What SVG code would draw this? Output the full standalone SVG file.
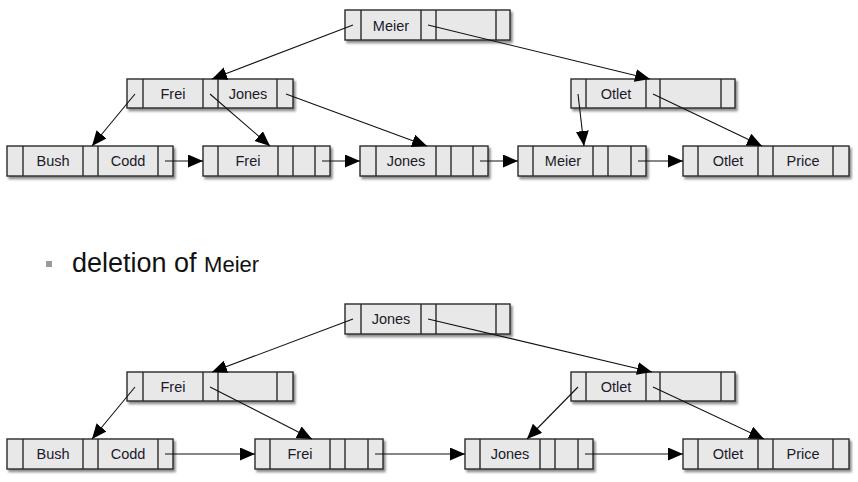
<svg xmlns="http://www.w3.org/2000/svg" width="858" height="482" viewBox="0 0 858 482">
<style>
.box{fill:#e8e8e8;stroke:#2b2b2b;stroke-width:1.4}
.div{stroke:#2b2b2b;stroke-width:1.4}
.t{font-family:"Liberation Sans",Arial,sans-serif;font-size:14.5px;fill:#1a1a2a;text-anchor:middle}
.c{stroke:#111;stroke-width:1.1;fill:none;marker-end:url(#ah)}
</style>
<defs>
<marker id="ah" markerUnits="userSpaceOnUse" markerWidth="16" markerHeight="14" refX="15" refY="6.5" orient="auto">
<path d="M0,0 L15,6.5 L0,13 Z" fill="#000"/>
</marker>
<filter id="sh" x="-10%" y="-20%" width="120%" height="160%">
<feDropShadow dx="2" dy="2.5" stdDeviation="1.3" flood-color="#000" flood-opacity="0.45"/>
</filter>
</defs>

<!-- TOP TREE -->
<g id="t-root">
<rect class="box" x="345" y="10" width="165" height="30" filter="url(#sh)"/>
<path class="div" d="M361,10V40M421,10V40M436,10V40M496,10V40"/>
<text class="t" x="391" y="31">Meier</text>
</g>
<g id="t-in1">
<rect class="box" x="127" y="79" width="166" height="29" filter="url(#sh)"/>
<path class="div" d="M143,79V108M203,79V108M218,79V108M277,79V108"/>
<text class="t" x="173" y="99">Frei</text>
<text class="t" x="248" y="99">Jones</text>
</g>
<g id="t-in2">
<rect class="box" x="571" y="79" width="164" height="29" filter="url(#sh)"/>
<path class="div" d="M586,79V108M646,79V108M660,79V108M721,79V108"/>
<text class="t" x="616" y="99">Otlet</text>
</g>
<g id="t-leaf1">
<rect class="box" x="7" y="146" width="166" height="30" filter="url(#sh)"/>
<path class="div" d="M23,146V176M83,146V176M98,146V176M158,146V176"/>
<text class="t" x="53" y="166">Bush</text>
<text class="t" x="128" y="166">Codd</text>
</g>
<g id="t-leaf2">
<rect class="box" x="203" y="146" width="127" height="30" filter="url(#sh)"/>
<path class="div" d="M218,146V176M278,146V176M293,146V176M315,146V176"/>
<text class="t" x="248" y="166">Frei</text>
</g>
<g id="t-leaf3">
<rect class="box" x="360" y="146" width="128" height="30" filter="url(#sh)"/>
<path class="div" d="M376,146V176M436,146V176M451,146V176M473,146V176"/>
<text class="t" x="406" y="166">Jones</text>
</g>
<g id="t-leaf4">
<rect class="box" x="518" y="146" width="128" height="30" filter="url(#sh)"/>
<path class="div" d="M533,146V176M593,146V176M608,146V176M631,146V176"/>
<text class="t" x="563" y="166">Meier</text>
</g>
<g id="t-leaf5">
<rect class="box" x="683" y="146" width="166" height="30" filter="url(#sh)"/>
<path class="div" d="M698,146V176M758,146V176M773,146V176M833,146V176"/>
<text class="t" x="728" y="166">Otlet</text>
<text class="t" x="803" y="166">Price</text>
</g>

<g id="t-connectors">
<line class="c" x1="353" y1="25" x2="212" y2="79"/>
<line class="c" x1="428" y1="25" x2="650" y2="79"/>
<line class="c" x1="135" y1="94" x2="92" y2="146"/>
<line class="c" x1="210" y1="94" x2="270" y2="146"/>
<line class="c" x1="286" y1="94" x2="427" y2="146"/>
<line class="c" x1="578" y1="94" x2="584" y2="146"/>
<line class="c" x1="653" y1="94" x2="762" y2="146"/>
<line class="c" x1="165" y1="161" x2="203" y2="161"/>
<line class="c" x1="322" y1="161" x2="360" y2="161"/>
<line class="c" x1="480" y1="161" x2="518" y2="161"/>
<line class="c" x1="638" y1="161" x2="683" y2="161"/>
</g>

<!-- CAPTION -->
<g id="caption">
<rect x="46" y="261" width="6" height="6" fill="#9a9a9a"/>
<text x="72" y="272" font-family="'Liberation Sans',Arial,sans-serif" font-size="27" fill="#111">deletion of <tspan font-size="22">Meier</tspan></text>
</g>

<!-- BOTTOM TREE -->
<g id="b-root">
<rect class="box" x="345" y="304" width="165" height="30" filter="url(#sh)"/>
<path class="div" d="M361,304V334M421,304V334M436,304V334M496,304V334"/>
<text class="t" x="391" y="324">Jones</text>
</g>
<g id="b-in1">
<rect class="box" x="127" y="372" width="166" height="29" filter="url(#sh)"/>
<path class="div" d="M143,372V401M203,372V401M218,372V401M277,372V401"/>
<text class="t" x="173" y="392">Frei</text>
</g>
<g id="b-in2">
<rect class="box" x="571" y="372" width="164" height="29" filter="url(#sh)"/>
<path class="div" d="M586,372V401M646,372V401M660,372V401M721,372V401"/>
<text class="t" x="616" y="392">Otlet</text>
</g>
<g id="b-leaf1">
<rect class="box" x="7" y="439" width="166" height="30" filter="url(#sh)"/>
<path class="div" d="M23,439V469M83,439V469M98,439V469M158,439V469"/>
<text class="t" x="53" y="459">Bush</text>
<text class="t" x="128" y="459">Codd</text>
</g>
<g id="b-leaf2">
<rect class="box" x="255" y="439" width="128" height="30" filter="url(#sh)"/>
<path class="div" d="M270,439V469M330,439V469M345,439V469M368,439V469"/>
<text class="t" x="300" y="459">Frei</text>
</g>
<g id="b-leaf3">
<rect class="box" x="465" y="439" width="128" height="30" filter="url(#sh)"/>
<path class="div" d="M480,439V469M540,439V469M555,439V469M578,439V469"/>
<text class="t" x="510" y="459">Jones</text>
</g>
<g id="b-leaf4">
<rect class="box" x="683" y="439" width="166" height="30" filter="url(#sh)"/>
<path class="div" d="M698,439V469M758,439V469M773,439V469M833,439V469"/>
<text class="t" x="728" y="459">Otlet</text>
<text class="t" x="803" y="459">Price</text>
</g>

<g id="b-connectors">
<line class="c" x1="353" y1="319" x2="212" y2="372"/>
<line class="c" x1="428" y1="319" x2="652" y2="372"/>
<line class="c" x1="135" y1="387" x2="92" y2="439"/>
<line class="c" x1="210" y1="387" x2="312" y2="439"/>
<line class="c" x1="578" y1="387" x2="527" y2="439"/>
<line class="c" x1="653" y1="387" x2="764" y2="439"/>
<line class="c" x1="165" y1="454" x2="255" y2="454"/>
<line class="c" x1="375" y1="454" x2="465" y2="454"/>
<line class="c" x1="585" y1="454" x2="683" y2="454"/>
</g>
</svg>
